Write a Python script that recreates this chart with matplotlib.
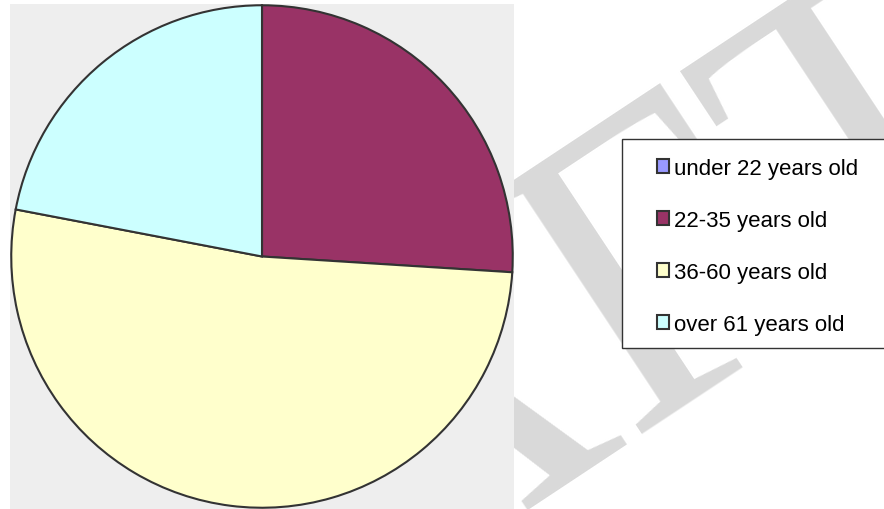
import matplotlib.pyplot as plt
from matplotlib.patches import Patch, Rectangle

grupos = ["under 22 years old", "22-35 years old", "36-60 years old", "over 61 years old"]
porcentajes = [0, 26, 52, 22]
colores = ["#9999FF", "#993366", "#FFFFCC", "#CCFFFF"]

fig = plt.figure(figsize=(8.84, 5.10), dpi=100)

# marca de agua "DRAFT" detras de todo
fig.text(-0.146, -0.837, "DRAFT", rotation=33.5, rotation_mode="anchor",
         fontsize=310, color="#d9d9d9", family="Liberation Serif",
         ha="left", va="baseline", zorder=-1)

ax = fig.add_axes([10 / 884, 0, 504 / 884, 505 / 510])
ax.pie(porcentajes, colors=colores, startangle=90, counterclock=False,
       radius=1, wedgeprops={"edgecolor": "#333333", "linewidth": 1.5})
ax.set_frame_on(True)
ax.set_facecolor("#eeeeee")
ax.set_xlim(-1.005, 1.005)
ax.set_ylim(-1.005, 1.005)
ax.set_aspect("auto")
ax.set_xticks([])
ax.set_yticks([])
for s in ax.spines.values():
    s.set_visible(False)

# caja de la leyenda (sale por el borde derecho)
caja = Rectangle((622 / 884, 1 - 349 / 510), 300 / 884, 209 / 510,
                 transform=fig.transFigure, facecolor="white",
                 edgecolor="#333333", linewidth=1.0, zorder=4)
fig.patches.append(caja)

handles = [Patch(facecolor=c, edgecolor="#333333", linewidth=1.5) for c in colores]
leg = fig.legend(handles, grupos, loc="upper left",
                 bbox_to_anchor=(657 / 884, 1 - 159 / 510),
                 prop={"family": "Liberation Sans", "size": 16},
                 frameon=False, handlelength=0.55, handleheight=0.55,
                 handletextpad=0.2, labelspacing=1.39, borderpad=0,
                 borderaxespad=0)
leg.set_zorder(5)

fig.savefig("out.png", dpi=100)
